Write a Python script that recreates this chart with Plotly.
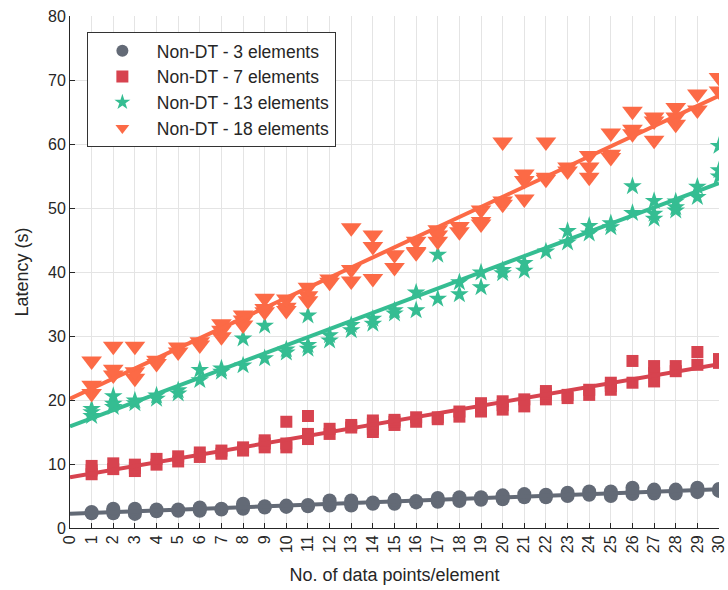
import numpy as np
import plotly.graph_objects as go

# Number of data points per element (x positions)
points = list(range(1, 31))

# Measured latency (s) for each x, several repeated runs per x
lat_3 = [
    [2.3, 2.5], [2.3, 2.7, 3.0], [2.2, 2.6, 3.0], [2.6, 2.9], [2.7, 2.9],
    [2.7, 3.0, 3.2], [2.9, 3.0], [3.0, 3.4, 3.8], [3.2, 3.4], [3.3, 3.5],
    [3.4, 3.6], [3.5, 3.9, 4.3], [3.5, 3.9, 4.3], [3.8, 4.0], [3.8, 4.1, 4.4],
    [4.0, 4.2], [4.1, 4.4, 4.7], [4.2, 4.5, 4.8], [4.4, 4.8], [4.5, 4.8, 5.1],
    [4.8, 5.3], [4.8, 5.2], [5.0, 5.5], [5.2, 5.7], [5.0, 5.4, 5.7],
    [5.3, 5.8, 6.3], [5.4, 5.7, 6.0], [5.4, 6.0], [5.6, 6.0, 6.3], [5.8, 6.1],
]
lat_7 = [
    [8.4, 9.0, 9.7], [9.2, 10.1], [8.9, 9.4, 9.9], [9.9, 10.8], [10.4, 11.2],
    [11.1, 11.8], [11.6, 12.1], [12.1, 12.6], [12.6, 13.2, 13.7], [12.6, 13.2, 16.6],
    [13.9, 14.7, 17.5], [14.7, 15.5], [15.7, 16.1], [15.0, 15.5, 16.3, 16.8], [16.1, 16.6, 16.9],
    [16.6, 17.3], [17.0, 17.3], [17.4, 18.2], [18.2, 19.0, 19.5], [18.5, 19.2, 19.8],
    [19.0, 20.1], [20.1, 21.0, 21.4], [20.3, 20.8], [20.8, 21.6], [21.6, 22.2, 22.7],
    [22.7, 26.1], [22.9, 24.2, 25.3], [24.5, 25.3], [25.5, 27.5], [25.8, 26.4],
]
lat_13 = [
    [17.5, 18.1, 18.6], [18.9, 19.4, 20.6], [19.5, 19.9], [20.2, 20.7], [21.0, 21.5],
    [23.1, 24.7], [24.4, 24.9], [25.4, 29.6], [26.5, 31.6], [27.4, 27.9],
    [28.0, 28.6, 33.2], [29.3, 30.1], [30.9, 31.7], [31.9, 32.7], [33.5, 34.0],
    [34.0, 36.8], [35.8, 42.7], [36.5, 38.4], [37.6, 39.9], [39.8, 40.3],
    [40.2, 41.4], [43.2], [44.6, 46.4], [46.0, 47.2], [47.0, 47.6],
    [49.2, 53.4], [48.3, 49.1, 51.1], [49.6, 50.1, 51.0], [51.7, 53.3], [54.9, 55.9, 59.7],
]
lat_18 = [
    [21.0, 22.3, 26.1], [23.9, 24.8, 28.4], [23.4, 24.4, 28.4], [25.7, 26.2], [27.5, 28.3],
    [28.6, 29.1], [29.9, 30.9, 31.9], [31.7, 32.5, 33.3], [33.8, 34.3, 35.9], [34.0, 34.5, 35.8],
    [35.5, 36.3, 37.6], [38.4, 38.9], [38.6, 40.4, 46.9], [39.0, 44.0, 45.8], [40.7, 42.7],
    [43.0, 43.2, 44.8], [44.8, 45.8, 46.6], [46.3, 47.1], [47.5, 47.9, 49.7], [50.6, 51.1, 60.3],
    [51.4, 54.3, 55.3], [54.5, 54.8, 60.3], [55.8, 56.4], [54.8, 56.4, 58.2], [57.9, 58.4, 61.7],
    [61.6, 62.3, 65.1], [60.6, 63.6, 64.2], [63.1, 64.2, 65.7], [65.3, 67.8], [68.3, 70.4],
]

series_names = ["Non-DT - 3 elements", "Non-DT - 7 elements",
                "Non-DT - 13 elements", "Non-DT - 18 elements"]
series_data = [lat_3, lat_7, lat_13, lat_18]
colors = ["#636a76", "#d7434f", "#35bd92", "#fc6a46"]
symbols = ["circle", "square", "star", "triangle-down"]
sizes = [14, 12, 14, 18]

FONT = "Liberation Sans, Arial, sans-serif"

fig = go.Figure()

for name, data, color, sym, size in zip(series_names, series_data, colors, symbols, sizes):
    xs = [p for p, vals in zip(points, data) for _ in vals]
    ys = [v for vals in data for v in vals]
    fig.add_trace(go.Scatter(
        x=xs, y=ys, mode="markers", name=name,
        marker=dict(symbol=sym, size=size, color=color, line=dict(width=0)),
    ))
    # least-squares linear trend over the whole x range
    slope, intercept = np.polyfit(xs, ys, 1)
    fx = np.array([0, 30])
    fig.add_trace(go.Scatter(
        x=fx, y=intercept + slope * fx, mode="lines", showlegend=False,
        line=dict(color=color, width=4), hoverinfo="skip",
    ))

axis_font = dict(family=FONT, size=16, color="#262626")
title_font = dict(family=FONT, size=18, color="#262626")

fig.update_layout(
    width=728, height=590,
    margin=dict(l=70, r=9, t=16, b=62),
    plot_bgcolor="white", paper_bgcolor="white",
    font=dict(family=FONT, color="#262626"),
    legend=dict(
        x=0.026, y=0.969, xanchor="left", yanchor="top",
        bgcolor="white", bordercolor="#333333", borderwidth=1,
        font=dict(size=17.5, color="#262626"),
        itemwidth=59, itemsizing="constant",
    ),
    xaxis=dict(
        range=[0, 30], tickmode="linear", tick0=0, dtick=1,
        tickangle=-90, tickfont=axis_font, ticklabeloverflow="allow",
        automargin=False,
        showgrid=True, gridcolor="#e4e4e4", gridwidth=1,
        showline=True, linecolor="#262626", linewidth=1,
        ticks="inside", ticklen=5, tickcolor="#262626",
        zeroline=False,
        title=dict(text="No. of data points/element", font=title_font, standoff=16),
    ),
    yaxis=dict(
        range=[0, 80], tickmode="linear", tick0=0, dtick=10,
        tickfont=axis_font, automargin=False,
        showgrid=True, gridcolor="#e4e4e4", gridwidth=1,
        showline=True, linecolor="#262626", linewidth=1,
        ticks="inside", ticklen=5, tickcolor="#262626",
        zeroline=False,
        title=dict(text="Latency (s)", font=title_font, standoff=14),
    ),
)

fig.write_html("out.html")
